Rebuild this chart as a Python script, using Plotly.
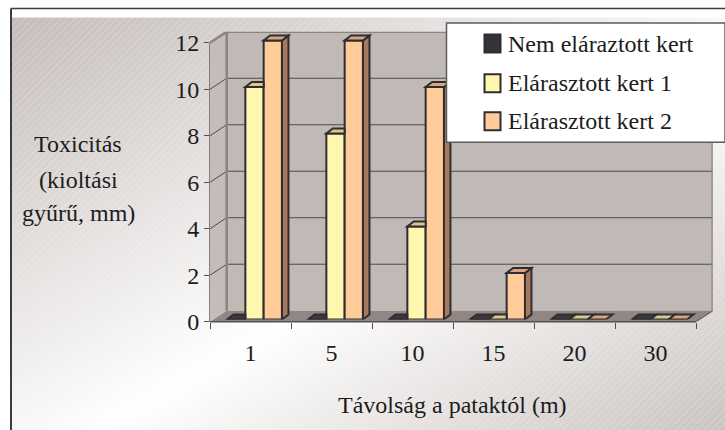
import base64
import plotly.graph_objects as go

# ---- data -------------------------------------------------------------
CATEGORIES = ["1", "5", "10", "15", "20", "30"]
SERIES = ["Nem eláraztott kert", "Elárasztott kert 1", "Elárasztott kert 2"]
NEM_ELARAZTOTT = [0, 0, 0, 0, 0, 0]
ELARASZTOTT_1 = [10, 8, 4, 0, 0, 0]
ELARASZTOTT_2 = [12, 12, 10, 2, 0, 0]
Y_TICKS = [0, 2, 4, 6, 8, 10, 12]
Y_TITLE = ["Toxicitás", "(kioltási", "gyűrű, mm)"]
X_TITLE = "Távolság a pataktól (m)"

VALUES = [NEM_ELARAZTOTT, ELARASZTOTT_1, ELARASZTOTT_2]

# ---- style ------------------------------------------------------------
FRONT = ["#343338", "#fff7b0", "#ffcc99"]
TOP = ["#3a393e", "#d8cb8a", "#d9a47e"]
SIDE = ["#2b2a2e", "#bfb276", "#a57a5c"]
OUTLINE = "#2e2d32"
FONT = "Liberation Serif"
TEXT = "#1c1c1c"
WALL = "#c1b9b6"
SIDE_WALL = "#c4bcb9"
FLOOR = "#918683"
WALL_EDGE = "#8d8380"
GRID = "#4b4b4b"

# layout is designed on a 725 x 430 grid; the figure itself is a little taller
W, GRID_H = 725, 430
FIG_H = 445
N = len(CATEGORIES)
Y_MAX = 12
# front plane of the 3-D box, in grid pixels
FX0, FX1 = 210.0, 696.0
FY0, FY12 = 320.0, 41.7
PX_X = (FX1 - FX0) / N
PX_Y = (FY0 - FY12) / Y_MAX
# depth of the walls / of the bars, in axis units
WALL_DX, WALL_DY = 16.7 / PX_X, 11.0 / PX_Y
BAR_DX, BAR_DY = 6.5 / PX_X, 5.0 / PX_Y
# the bars stand slightly behind the front plane
BAR_SHIFT_X, BAR_SHIFT_Y = 4.0, 2.3
BAR_W = 0.226

X_RANGE = [-0.5, N - 0.5 + WALL_DX]
Y_RANGE = [0, Y_MAX + WALL_DY]


def px(x):
    return x / W


def py(y):
    return 1 - y / GRID_H


def dom_x(left_px):
    return [px(left_px), px(left_px + (X_RANGE[1] - X_RANGE[0]) * PX_X)]


def dom_y(zero_px):
    top_px = zero_px - (Y_RANGE[1] - Y_RANGE[0]) * PX_Y
    return [py(zero_px), py(top_px)]


def poly(points):
    return "M " + " L ".join(f"{x:.4f},{y:.4f}" for x, y in points) + " Z"


# ---- background: diagonal gradient with fine hatching -------------------
svg = f"""<svg xmlns="http://www.w3.org/2000/svg" width="{W}" height="{GRID_H}" viewBox="0 0 {W} {GRID_H}" preserveAspectRatio="none">
<defs>
<linearGradient id="g" x1="0" y1="0" x2="1" y2="1">
<stop offset="0" stop-color="#c4bcb9"/>
<stop offset="0.56" stop-color="#ffffff"/>
<stop offset="1" stop-color="#cac3c0"/>
</linearGradient>
<pattern id="h" width="5" height="5" patternUnits="userSpaceOnUse" patternTransform="rotate(45)">
<line x1="0" y1="0" x2="0" y2="5" stroke="#ffffff" stroke-width="1" stroke-opacity="0.4"/>
</pattern>
</defs>
<rect width="{W}" height="{GRID_H}" fill="#ffffff"/>
<rect x="12" y="16.5" width="{W - 12}" height="{GRID_H - 16.5}" fill="url(#g)"/>
<rect x="12" y="16.5" width="{W - 12}" height="{GRID_H - 16.5}" fill="url(#h)"/>
<line x1="11" y1="7.5" x2="{W}" y2="7.5" stroke="#3c3c3c" stroke-width="1.5"/>
<line x1="11" y1="7.5" x2="11" y2="{GRID_H}" stroke="#3c3c3c" stroke-width="2"/>
</svg>"""
bg_src = "data:image/svg+xml;base64," + base64.b64encode(svg.encode("utf-8")).decode("ascii")

fig = go.Figure()

# ---- bars (front faces) -----------------------------------------------
positions = list(range(N))
for s, name in enumerate(SERIES):
    fig.add_trace(go.Bar(
        x=positions, y=VALUES[s], name=name,
        width=BAR_W, offset=(s - 1.5) * BAR_W,
        xaxis="x2", yaxis="y2",
        marker=dict(color=FRONT[s], line=dict(color=OUTLINE, width=2)),
        showlegend=False, hoverinfo="skip",
    ))

shapes = []

# ---- walls, floor and gridlines of the box ---------------------------
L, R = X_RANGE[0], N - 0.5
shapes.append(dict(type="path", xref="x", yref="y", layer="below",
                   path=poly([(L, 0), (L, Y_MAX), (L + WALL_DX, Y_MAX + WALL_DY), (L + WALL_DX, WALL_DY)]),
                   fillcolor=SIDE_WALL, line=dict(width=0)))
shapes.append(dict(type="rect", xref="x", yref="y", layer="below",
                   x0=L + WALL_DX, x1=R + WALL_DX, y0=WALL_DY, y1=Y_MAX + WALL_DY,
                   fillcolor=WALL, line=dict(width=0)))
shapes.append(dict(type="path", xref="x", yref="y", layer="below",
                   path=poly([(L, 0), (R, 0), (R + WALL_DX, WALL_DY), (L + WALL_DX, WALL_DY)]),
                   fillcolor=FLOOR, line=dict(width=0)))
for v in Y_TICKS[1:-1]:
    shapes.append(dict(type="line", xref="x", yref="y", layer="below",
                       x0=L, y0=v, x1=L + WALL_DX, y1=v + WALL_DY, line=dict(color=GRID, width=1)))
    shapes.append(dict(type="line", xref="x", yref="y", layer="below",
                       x0=L + WALL_DX, y0=v + WALL_DY, x1=R + WALL_DX, y1=v + WALL_DY,
                       line=dict(color=GRID, width=1)))
# wall edges
shapes.append(dict(type="path", xref="x", yref="y", layer="below",
                   path=f"M {L + WALL_DX:.4f},{WALL_DY:.4f} L {L + WALL_DX:.4f},{Y_MAX + WALL_DY:.4f} "
                        f"L {R + WALL_DX:.4f},{Y_MAX + WALL_DY:.4f} L {R + WALL_DX:.4f},{WALL_DY:.4f}",
                   line=dict(color=WALL_EDGE, width=2.5)))
shapes.append(dict(type="line", xref="x", yref="y", layer="below",
                   x0=L, y0=Y_MAX, x1=L + WALL_DX, y1=Y_MAX + WALL_DY,
                   line=dict(color=WALL_EDGE, width=2.5)))
shapes.append(dict(type="line", xref="x", yref="y", layer="below",
                   x0=R, y0=0, x1=R + WALL_DX, y1=WALL_DY,
                   line=dict(color="#6c6563", width=1.2)))
# front axis lines
shapes.append(dict(type="line", xref="paper", yref="paper",
                   x0=px(FX0), y0=py(FY0), x1=px(FX0), y1=py(FY12),
                   line=dict(color="#7a7270", width=1.8), layer="below"))
shapes.append(dict(type="line", xref="paper", yref="paper",
                   x0=px(FX0), y0=py(FY0), x1=px(FX1), y1=py(FY0),
                   line=dict(color="#555050", width=1.5)))

# ---- 3-D faces of the bars -------------------------------------------
for i in range(N):
    for s in range(len(SERIES)):
        v = VALUES[s][i]
        x0 = i + (s - 1.5) * BAR_W
        x1 = x0 + BAR_W
        nxt = VALUES[s + 1][i] if s + 1 < len(SERIES) else None
        if nxt is None or nxt < v:
            if v > 0:
                shapes.append(dict(type="path", xref="x2", yref="y2",
                                   path=poly([(x1, 0), (x1, v), (x1 + BAR_DX, v + BAR_DY), (x1 + BAR_DX, BAR_DY)]),
                                   fillcolor=SIDE[s], line=dict(color=OUTLINE, width=2)))
        if nxt is not None and nxt > v:
            top = [(x0, v), (x1, v), (x1, v + BAR_DY), (x0 + BAR_DX, v + BAR_DY)]
        else:
            top = [(x0, v), (x1, v), (x1 + BAR_DX, v + BAR_DY), (x0 + BAR_DX, v + BAR_DY)]
        shapes.append(dict(type="path", xref="x2", yref="y2", path=poly(top),
                           fillcolor=TOP[s], line=dict(color=OUTLINE, width=2)))

# ---- legend ---------------------------------------------------------
LEG_X0, LEG_Y0, LEG_Y1 = 446.5, 22.0, 141.0
LEG_ROWS = [42.5, 82.0, 120.0]
shapes.append(dict(type="rect", xref="paper", yref="paper",
                   x0=px(LEG_X0), x1=1.0, y0=py(LEG_Y1), y1=py(LEG_Y0),
                   fillcolor="#ffffff", line=dict(color="#5c5c5c", width=1.5)))
annotations = []
for s, name in enumerate(SERIES):
    cy = LEG_ROWS[s]
    shapes.append(dict(type="rect", xref="paper", yref="paper",
                       x0=px(484.5), x1=px(500.5), y0=py(cy + 9), y1=py(cy - 9),
                       fillcolor=FRONT[s], line=dict(color=OUTLINE, width=2)))
    annotations.append(dict(xref="paper", yref="paper", x=px(506), y=py(cy),
                            xanchor="left", yanchor="middle", showarrow=False, text=name,
                            font=dict(family=FONT, size=24, color=TEXT)))

# ---- axis titles ------------------------------------------------------
for k, line in enumerate(Y_TITLE):
    annotations.append(dict(xref="paper", yref="paper", x=px(78), y=py([143, 179, 212][k]),
                            xanchor="center", yanchor="middle", showarrow=False, text=line,
                            font=dict(family=FONT, size=24, color=TEXT)))
annotations.append(dict(xref="paper", yref="paper", x=px(452), y=py(403),
                        xanchor="center", yanchor="middle", showarrow=False, text=X_TITLE,
                        font=dict(family=FONT, size=24, color=TEXT)))

tick_font = dict(family=FONT, size=24, color=TEXT)
fig.update_layout(
    width=W, height=FIG_H, autosize=False,
    margin=dict(l=0, r=0, t=0, b=0, pad=0),
    font=dict(family=FONT),
    paper_bgcolor="#ffffff", plot_bgcolor="rgba(0,0,0,0)",
    barmode="overlay", showlegend=False,
    images=[dict(source=bg_src, xref="paper", yref="paper", x=0, y=1, sizex=1, sizey=1,
                 xanchor="left", yanchor="top", sizing="stretch", layer="below")],
    xaxis=dict(domain=dom_x(FX0), range=X_RANGE, anchor="y",
               tickmode="array", tickvals=positions, ticktext=CATEGORIES, ticks="",
               ticklabelstandoff=14, tickfont=tick_font,
               minor=dict(tickvals=[i - 0.5 for i in range(N + 1)], ticks="outside",
                          ticklen=6, tickwidth=1, tickcolor="#555050"),
               showgrid=False, zeroline=False, showline=False, fixedrange=True),
    yaxis=dict(domain=dom_y(FY0), range=Y_RANGE, anchor="x",
               tickmode="array", tickvals=Y_TICKS, ticks="outside", ticklen=5,
               tickwidth=1, tickcolor="#555050", tickfont=tick_font,
               showgrid=False, zeroline=False, showline=False, fixedrange=True),
    xaxis2=dict(domain=dom_x(FX0 + BAR_SHIFT_X), range=X_RANGE, anchor="y2",
                visible=False, fixedrange=True),
    yaxis2=dict(domain=dom_y(FY0 - BAR_SHIFT_Y), range=Y_RANGE, anchor="x2",
                visible=False, fixedrange=True),
    shapes=shapes, annotations=annotations,
)

fig.write_html("out.html")
